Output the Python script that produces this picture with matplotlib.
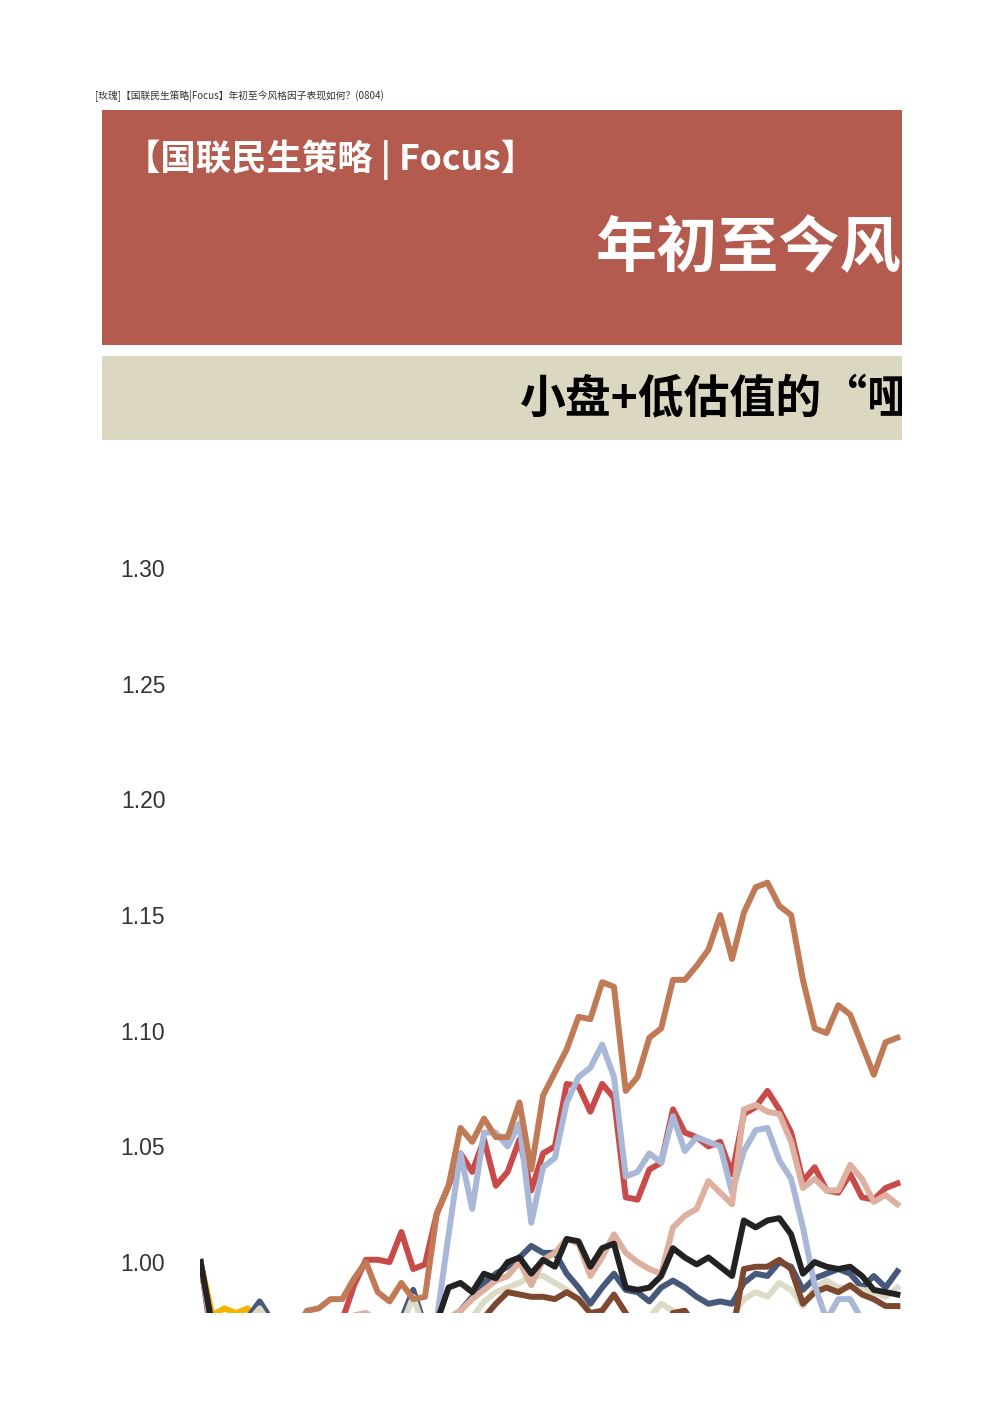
import numpy as np
from matplotlib import pyplot as plt

plt.rcParams['font.family'] = ['Noto Sans CJK SC', 'DejaVu Sans']

FIG_W, FIG_H = 992, 1403

# style factor net values (index = trading day)
orangeBrown = [1.000, 0.972, 0.965, 0.962, 0.960, 0.963, 0.961, 0.966, 0.970, 0.979,
               0.980, 0.984, 0.984, 0.993, 1.000, 0.987, 0.983, 0.991, 0.984, 0.985,
               1.021, 1.033, 1.058, 1.052, 1.062, 1.054, 1.054, 1.069, 1.040, 1.072,
               1.082, 1.092, 1.106, 1.105, 1.121, 1.119, 1.074, 1.080, 1.097, 1.101,
               1.122, 1.122, 1.128, 1.135, 1.150, 1.131, 1.151, 1.162, 1.164, 1.154,
               1.150, 1.122, 1.101, 1.099, 1.111, 1.107, 1.094, 1.081, 1.095, 1.097]
red = [1.000, 0.970, 0.962, 0.958, 0.955, 0.958, 0.960, 0.957, 0.962, 0.965,
       0.968, 0.970, 0.975, 0.990, 1.001, 1.001, 1.000, 1.013, 0.997, 0.999,
       1.021, 1.033, 1.047, 1.039, 1.053, 1.033, 1.039, 1.053, 1.031, 1.047,
       1.050, 1.077, 1.076, 1.065, 1.077, 1.071, 1.028, 1.027, 1.040, 1.043,
       1.066, 1.056, 1.054, 1.050, 1.052, 1.038, 1.064, 1.067, 1.074, 1.066,
       1.056, 1.035, 1.041, 1.031, 1.030, 1.038, 1.028, 1.027, 1.032, 1.034]
lightBlue = [1.000, 0.968, 0.962, 0.958, 0.955, 0.953, 0.950, 0.952, 0.955, 0.953,
             0.950, 0.948, 0.950, 0.953, 0.955, 0.952, 0.950, 0.953, 0.955, 0.958,
             0.975, 1.012, 1.047, 1.023, 1.056, 1.056, 1.050, 1.060, 1.017, 1.041,
             1.045, 1.069, 1.080, 1.084, 1.094, 1.080, 1.037, 1.039, 1.047, 1.043,
             1.063, 1.048, 1.054, 1.052, 1.050, 1.030, 1.048, 1.057, 1.058, 1.044,
             1.036, 1.015, 0.990, 0.975, 0.984, 0.984, 0.975, 0.968, 0.965, 0.963]
pink = [1.000, 0.970, 0.965, 0.962, 0.960, 0.962, 0.960, 0.958, 0.960, 0.962,
        0.965, 0.963, 0.966, 0.977, 0.978, 0.975, 0.967, 0.970, 0.968, 0.972,
        0.970, 0.976, 0.979, 0.984, 0.988, 0.992, 0.994, 1.000, 0.990, 1.001,
        1.004, 1.010, 1.008, 0.994, 1.002, 1.012, 1.004, 1.000, 0.997, 0.995,
        1.015, 1.020, 1.023, 1.035, 1.030, 1.025, 1.066, 1.068, 1.065, 1.064,
        1.052, 1.032, 1.036, 1.031, 1.031, 1.042, 1.036, 1.026, 1.029, 1.025]
black = [1.000, 0.972, 0.962, 0.958, 0.955, 0.957, 0.960, 0.958, 0.955, 0.953,
         0.955, 0.958, 0.960, 0.962, 0.960, 0.958, 0.960, 0.962, 0.965, 0.962,
         0.974, 0.989, 0.991, 0.987, 0.995, 0.993, 1.000, 1.002, 0.995, 1.001,
         0.998, 1.010, 1.009, 0.998, 1.006, 1.008, 0.989, 0.988, 0.989, 0.994,
         1.006, 1.002, 0.999, 1.002, 0.998, 0.994, 1.018, 1.015, 1.018, 1.019,
         1.012, 0.995, 1.000, 0.998, 0.997, 0.998, 0.994, 0.988, 0.987, 0.986]
slate = [1.000, 0.970, 0.968, 0.972, 0.976, 0.983, 0.975, 0.968, 0.965, 0.962,
         0.960, 0.962, 0.965, 0.963, 0.966, 0.968, 0.970, 0.975, 0.988, 0.972,
         0.965, 0.970, 0.979, 0.985, 0.991, 0.995, 0.998, 1.002, 1.007, 1.004,
         1.004, 0.995, 0.989, 0.982, 0.989, 0.995, 0.988, 0.987, 0.983, 0.989,
         0.992, 0.989, 0.985, 0.982, 0.983, 0.982, 0.991, 0.995, 0.994, 1.000,
         0.998, 0.988, 0.993, 0.995, 0.997, 0.995, 0.989, 0.994, 0.989, 0.996]
beige = [1.000, 0.968, 0.966, 0.970, 0.974, 0.980, 0.972, 0.965, 0.962, 0.960,
         0.958, 0.960, 0.962, 0.960, 0.963, 0.965, 0.968, 0.972, 0.985, 0.970,
         0.962, 0.965, 0.970, 0.976, 0.983, 0.987, 0.989, 0.991, 0.994, 0.994,
         0.991, 0.988, 0.984, 0.978, 0.972, 0.970, 0.968, 0.972, 0.976, 0.982,
         0.979, 0.972, 0.968, 0.966, 0.970, 0.976, 0.984, 0.987, 0.985, 0.991,
         0.988, 0.981, 0.989, 0.992, 0.989, 0.989, 0.988, 0.987, 0.985, 0.989]
darkBrown = [1.000, 0.965, 0.960, 0.958, 0.955, 0.957, 0.955, 0.952, 0.950, 0.953,
             0.955, 0.952, 0.950, 0.953, 0.955, 0.957, 0.955, 0.958, 0.960, 0.958,
             0.962, 0.965, 0.968, 0.972, 0.976, 0.982, 0.987, 0.986, 0.985, 0.985,
             0.984, 0.987, 0.984, 0.978, 0.979, 0.986, 0.978, 0.970, 0.966, 0.970,
             0.978, 0.979, 0.972, 0.968, 0.966, 0.968, 0.997, 0.998, 0.998, 1.001,
             0.997, 0.982, 0.987, 0.989, 0.987, 0.990, 0.986, 0.984, 0.981, 0.981]
yellow = [1.000, 0.977, 0.980, 0.978, 0.980, 0.970, 0.962, 0.958, 0.955, 0.957,
          0.955, 0.953]

yTicks = [1.00, 1.05, 1.10, 1.15, 1.20, 1.25, 1.30]

headerLine = '[玫瑰]【国联民生策略|Focus】年初至今风格因子表现如何？(0804)'
bannerTitle = '【国联民生策略 | Focus】'
bigTitle = '年初至今风格因子表现如何？'
subTitle = '小盘+低估值的“哑铃”组合'


def figRect(x0, y0, x1, y1):
    # pixel box (top-left origin) -> figure fraction [l, b, w, h]
    return [x0 / FIG_W, 1 - y1 / FIG_H, (x1 - x0) / FIG_W, (y1 - y0) / FIG_H]


def px(x, y):
    return x / FIG_W, 1 - y / FIG_H


def bannerAxes(fig, box, color):
    bax = fig.add_axes(figRect(*box))
    bax.set_facecolor(color)
    bax.set_xticks([])
    bax.set_yticks([])
    for s in bax.spines.values():
        s.set_visible(False)
    return bax


fig = plt.figure(figsize=(FIG_W / 100, FIG_H / 100), dpi=100)
fig.patch.set_facecolor('white')

fig.text(*px(95, 96), headerLine, fontsize=7.0, color='#333333', va='center')

# red banner, the page cuts it at the right like the reference
redAx = bannerAxes(fig, (102, 110, 902, 345), '#B35B4E')
redAx.text(*px(125, 160), bannerTitle, transform=fig.transFigure, fontsize=25.5,
           color='white', fontweight='bold', va='center', clip_on=True)
redAx.text(*px(596, 250), bigTitle, transform=fig.transFigure, fontsize=44,
           color='white', fontweight='bold', va='center', clip_on=True)

# beige banner
beigeAx = bannerAxes(fig, (102, 356, 902, 440), '#DBD7C1')
beigeAx.text(*px(520, 400), subTitle, transform=fig.transFigure, fontsize=33,
             color='black', fontweight='bold', va='center', clip_on=True)

# the chart itself, cut off at the page edge
ax = fig.add_axes(figRect(200, 540, 902, 1313))
ax.set_facecolor('white')

series = [
    (yellow, '#F4B400'),
    (slate, '#46597A'),
    (beige, '#DCDBC6'),
    (darkBrown, '#7E4830'),
    (red, '#C84B49'),
    (lightBlue, '#A9B8D7'),
    (pink, '#DDB09F'),
    (orangeBrown, '#C17A56'),
    (black, '#222222'),
]
for vals, col in series:
    ax.plot(np.arange(len(vals)), vals, color=col, lw=4.3)

ax.set_xlim(-0.05, 59.39)
ax.set_ylim(0.978, 1.3121)
ax.set_yticks(yTicks)
ax.set_yticklabels(['%.2f' % t for t in yTicks], family=['Liberation Sans', 'DejaVu Sans'],
                   fontsize=16.5, color='#333333')
ax.set_xticks([])
ax.tick_params(axis='y', length=0, pad=25)
for s in ax.spines.values():
    s.set_visible(False)

plt.savefig('out.png', dpi=100)
